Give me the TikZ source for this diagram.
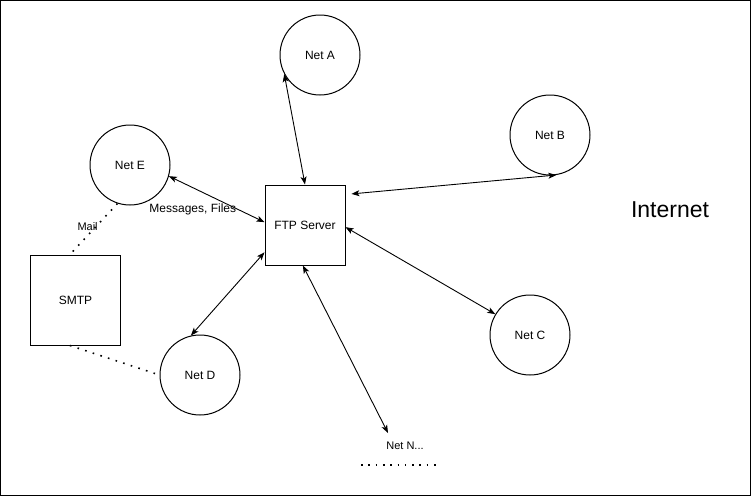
\documentclass[tikz,border=0pt]{standalone}
\usepackage{fontspec}
\setmainfont{Liberation Sans}
\usepackage{tikz}
\usetikzlibrary{shapes,arrows.meta,positioning}

\begin{document}
\begin{tikzpicture}[x=1pt, y=-1pt, line width=1pt, font=\fontsize{12}{14}\selectfont]
    \tikzstyle{net} = [circle, draw, minimum size=80pt, inner sep=0pt]
    \tikzstyle{server} = [rectangle, draw, minimum width=80pt, minimum height=80pt, inner sep=0pt]
    \tikzstyle{arrow} = [line width=0.9pt, {Stealth[length=8pt,width=6pt,inset=2pt]}-{Stealth[length=8pt,width=6pt,inset=2pt]}]
    \tikzstyle{dots} = [line width=1.6pt, dash pattern=on 1.6pt off 6.4pt]

    \useasboundingbox (0,0) rectangle (751,496);
    \draw (0.5,0.5) rectangle (750.5,495.5);

    \node (ftp) [server] at (305,225) {FTP Server};
    \node (smtp) [server, minimum width=90pt, minimum height=90pt] at (75.5,300) {SMTP};
    \node (neta) [net] at (320,55) {Net A};
    \node (netb) [net] at (550,135) {Net B};
    \node (netc) [net] at (530,335) {Net C};
    \node (netd) [net] at (200,375) {Net D};
    \node (nete) [net] at (130,165) {Net E};
    \node (netn) at (405,446) {\fontsize{11}{13}\selectfont Net N...};
    \node (internet) at (670,210) {\fontsize{23}{27}\selectfont Internet};
    \coordinate (netnend) at (388,433);
    \coordinate (moreleft) at (361,465);
    \coordinate (moreright) at (436,465);

    \draw [arrow] (neta.208) -- (ftp.north);
    \draw [arrow, shorten <=6pt] (ftp.37) -- (netb.-81);
    \draw [arrow] (ftp.-3) -- (netc.149);
    \draw [arrow] (ftp.214) -- (netd.103);
    \draw [arrow] (ftp.176) -- node[pos=0.75, yshift=-22pt] {Messages, Files} (nete.-16);
    \draw [arrow] (ftp.267) -- (netnend);
    \draw [dots] (nete.252) -- node[pos=0.46, xshift=-8pt] {\fontsize{11}{13}\selectfont Mail} (smtp.97);
    \draw [dots] (smtp.263) -- (netd.180);
    \draw [line width=1.6pt, dash pattern=on 1.6pt off 5.7pt] (moreleft) -- (moreright);
\end{tikzpicture}
\end{document}
